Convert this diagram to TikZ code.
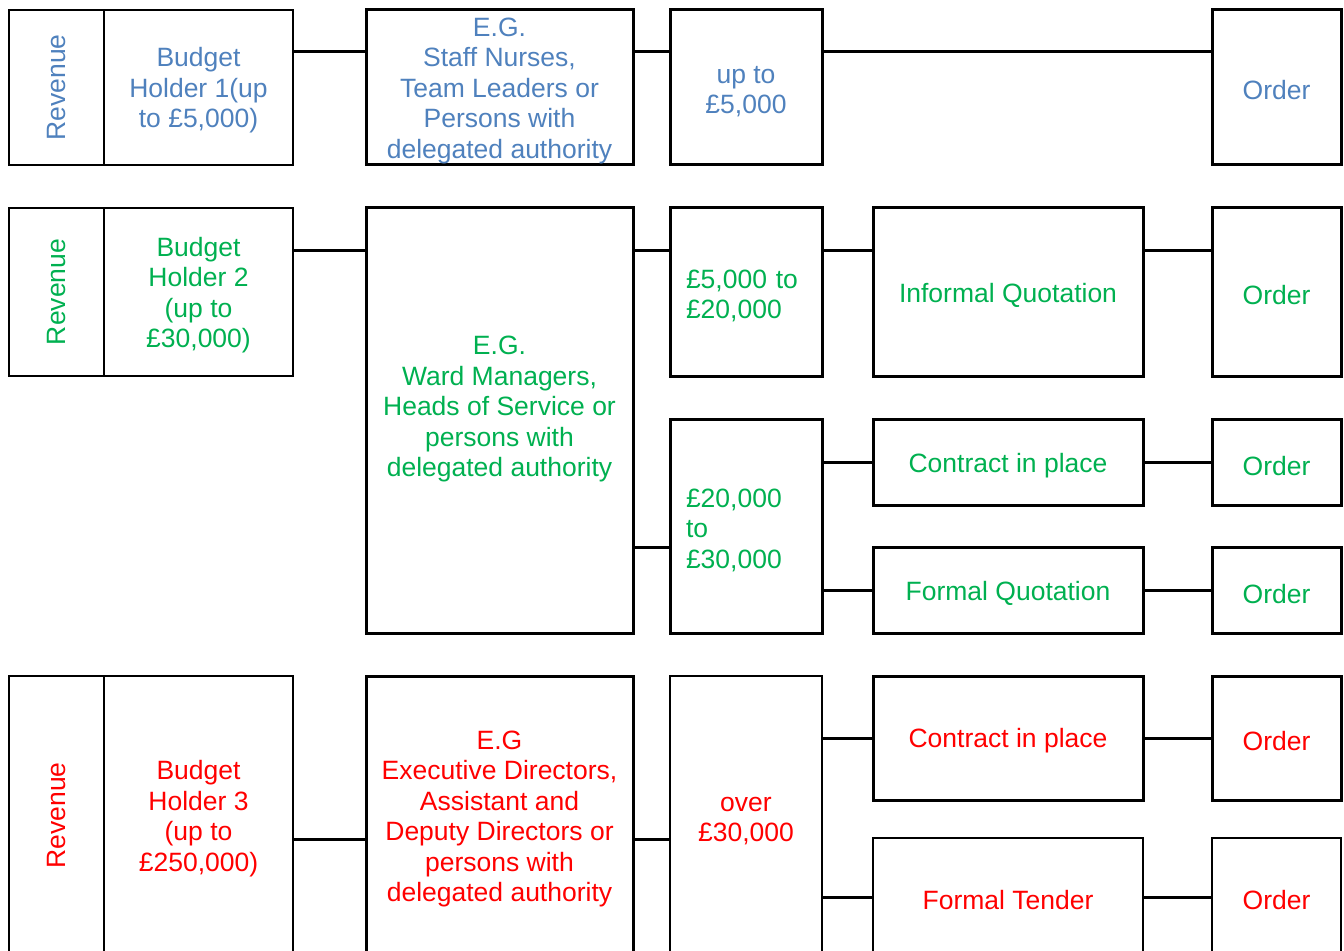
\documentclass[tikz,border=0pt]{standalone}
\usepackage{fontspec}
\setmainfont{Liberation Sans}
\definecolor{revblue}{HTML}{4F81BD}
\definecolor{revgreen}{HTML}{00B050}
\definecolor{revred}{HTML}{FF0000}
\newcommand\lift{\rule{0pt}{12.5pt}}

\begin{document}
\begin{tikzpicture}[x=0.5pt, y=-0.5pt, font=\fontsize{13.25}{15.25}\selectfont,
  box/.style={draw, line width=1.5pt, inner sep=0pt, align=center},
  thin/.style={line width=1pt},
  sz/.style 2 args={minimum width=#1*0.5pt, minimum height=#2*0.5pt},
  amount/.style={text width=60pt, align=left},
  link/.style={line width=1.5pt}]
\useasboundingbox (0,0) rectangle (1344,951);
\clip (0,0) rectangle (1344,951);

\node[box, thin, sz={95}{155}, text=revblue] (rev1) at (56.5,87.5) {\rotatebox{90}{Revenue}};
\node[box, thin, sz={189}{155}, text=revblue] (bh1) at (198.5,87.5) {\lift Budget\\Holder 1(up\\to £5,000)};
\node[box, sz={267}{155}, text=revblue] (eg1) at (499.5,87.5) {\lift E.G.\\Staff Nurses,\\Team Leaders or\\Persons with\\delegated authority};
\node[box, sz={152}{155}, text=revblue] (amt1) at (746,87.5) {\lift up to\\£5,000};
\node[box, sz={129}{155}, text=revblue] (ord1) at (1276.5,87.5) {\lift Order};
\coordinate (r1) at (0,52);
\draw[link] (bh1.east |- r1) -- (eg1.west |- r1) (eg1.east |- r1) -- (amt1.west |- r1)
  (amt1.east |- r1) -- (ord1.west |- r1);

\node[box, thin, sz={95}{168}, text=revgreen] (rev2) at (56.5,292) {\rotatebox{90}{Revenue}};
\node[box, thin, sz={189}{168}, text=revgreen] (bh2) at (198.5,292) {\lift Budget\\Holder 2\\(up to\\£30,000)};
\node[box, sz={267}{426}] (eg2) at (499.5,421) {};
\node[text=revgreen, align=center] (eg2t) at (499.5,406) {\lift E.G.\\Ward Managers,\\Heads of Service or\\persons with\\delegated authority};
\node[box, sz={152}{169}] (amt2) at (746,292.5) {};
\node[amount, text=revgreen] (amt2t) at (amt2) {\lift £5,000 to\\£20,000};
\node[box, sz={270}{169}, text=revgreen] (inf) at (1008,292.5) {\lift Informal Quotation};
\node[box, sz={129}{169}, text=revgreen] (ord2) at (1276.5,292.5) {\lift Order};
\node[box, sz={152}{214}] (amt3) at (746,527) {};
\node[amount, text=revgreen] (amt3t) at (amt3) {\lift £20,000\\to\\£30,000};
\node[box, sz={270}{86}, text=revgreen] (con2) at (1008,463) {\lift Contract in place};
\node[box, sz={129}{86}, text=revgreen] (ord3) at (1276.5,463) {\lift Order};
\node[box, sz={270}{86}, text=revgreen] (fq) at (1008,591) {\lift Formal Quotation};
\node[box, sz={129}{86}, text=revgreen] (ord4) at (1276.5,591) {\lift Order};
\coordinate (r2) at (0,251);
\coordinate (r2b) at (0,548);
\draw[link] (bh2.east |- r2) -- (eg2.west |- r2) (eg2.east |- r2) -- (amt2.west |- r2)
  (amt2.east |- r2) -- (inf.west |- r2) (inf.east |- r2) -- (ord2.west |- r2);
\draw[link] (eg2.east |- r2b) -- (amt3.west |- r2b);
\draw[link] (amt3.east |- con2) -- (con2) -- (ord3);
\draw[link] (amt3.east |- fq) -- (fq) -- (ord4);

\node[box, thin, sz={95}{279}, text=revred] (rev3) at (56.5,815.5) {\rotatebox{90}{Revenue}};
\node[box, thin, sz={189}{279}, text=revred] (bh3) at (198.5,815.5) {\lift Budget\\Holder 3\\(up to\\£250,000)};
\node[box, sz={267}{279}, text=revred] (eg3) at (499.5,815.5) {\lift E.G\\Executive Directors,\\Assistant and\\Deputy Directors or\\persons with\\delegated authority};
\node[box, thin, sz={152}{279}, text=revred] (amt4) at (746,815.5) {\lift over\\£30,000};
\node[box, sz={270}{124}, text=revred] (con3) at (1008,738) {\lift Contract in place};
\node[box, sz={129}{124}, text=revred] (ord5) at (1276.5,738) {\lift Order};
\node[box, thin, sz={270}{118}, text=revred] (ft) at (1008,897) {\lift Formal Tender};
\node[box, thin, sz={129}{118}, text=revred] (ord6) at (1276.5,897) {\lift Order};
\coordinate (r3) at (0,839);
\draw[link] (bh3.east |- r3) -- (eg3.west |- r3) (eg3.east |- r3) -- (amt4.west |- r3);
\draw[link] (amt4.east |- con3) -- (con3) -- (ord5);
\draw[link] (amt4.east |- ft) -- (ft) -- (ord6);
\end{tikzpicture}
\end{document}
